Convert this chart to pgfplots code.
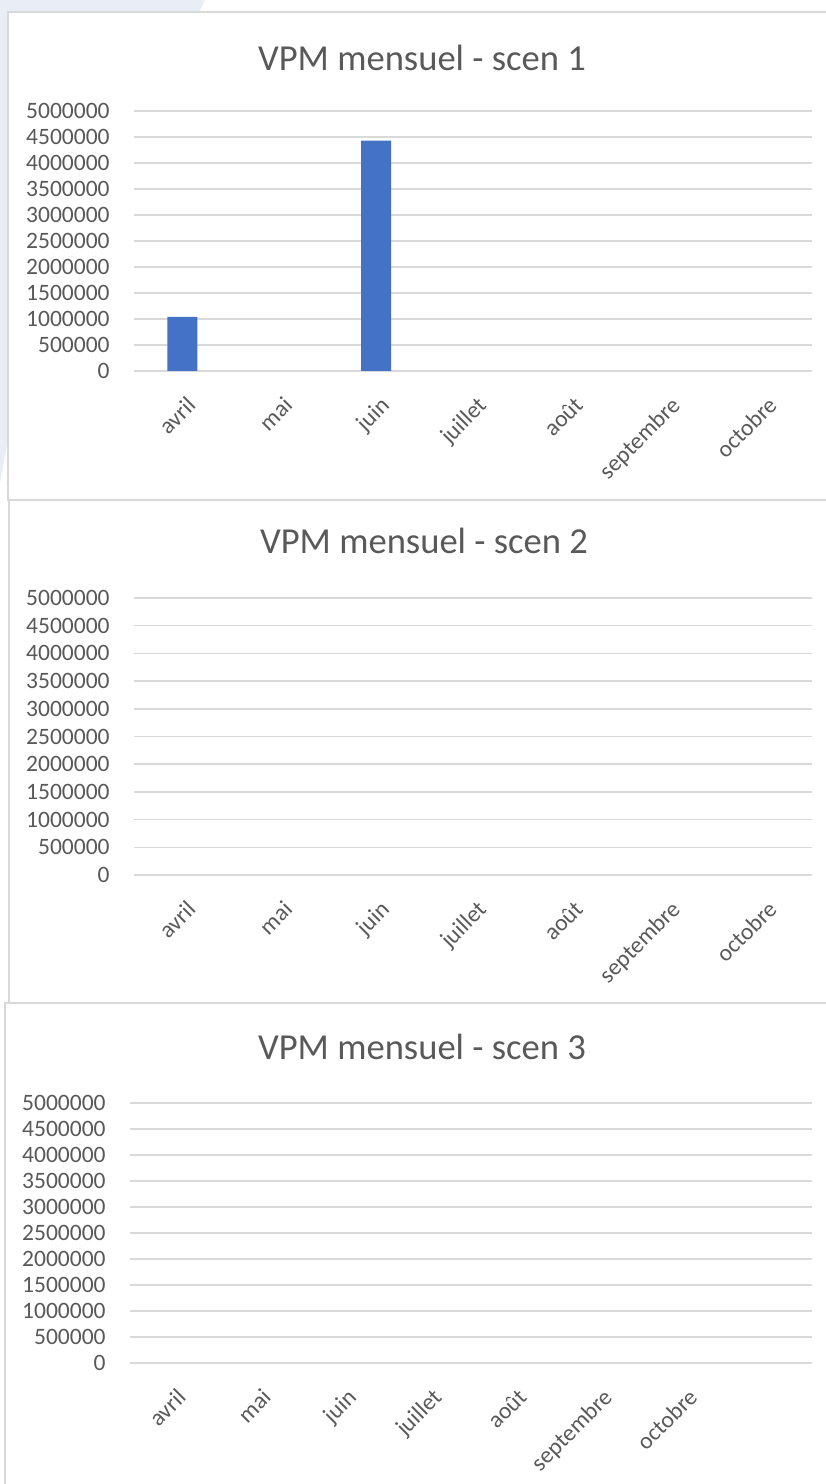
\documentclass[border=0pt]{standalone}
\usepackage{fontspec}
\setmainfont{Carlito}
\usepackage{pgfplots}
\pgfplotsset{compat=1.18}
\definecolor{bgc}{RGB}{233,237,245}
\definecolor{framec}{RGB}{217,217,217}
\definecolor{gridc}{RGB}{217,217,217}
\definecolor{txt}{RGB}{89,89,89}
\definecolor{barc}{RGB}{68,114,196}
\pgfplotsset{vpm/.style={
  scale only axis,
  ybar, bar width=15bp,
  ymin=0, ymax=5000000,
  ytick={0,500000,1000000,1500000,2000000,2500000,3000000,3500000,4000000,4500000,5000000},
  xtick={0,1,2,3,4,5,6},
  xticklabels={avril,mai,juin,juillet,août,septembre,octobre},
  axis line style={draw=none},
  major tick length=0pt,
  ymajorgrids, grid style={draw=gridc, line width=0.75bp},
  scaled y ticks=false,
  /pgf/number format/.cd, fixed, 1000 sep={}, assume math mode=true, /pgfplots/.cd,
  tick label style={font=\fontsize{11.75bp}{14bp}\selectfont, text=txt},
  yticklabel style={anchor=east, inner sep=0pt, xshift=-12bp},
  xticklabel style={xshift=1.5bp, yshift=-12bp, rotate=45, anchor=north east, inner sep=0pt},
  clip=false,
  anchor=south west,
  unbounded coords=discard,
  y filter/.expression={y==0 ? nan : y},
}}
\newcommand\ttl{\fontsize{18.3bp}{21bp}\selectfont\color{txt}}
\begin{document}
\begin{tikzpicture}
\useasboundingbox (0,0) rectangle (413bp,742bp);
\clip (0,0) rectangle (413bp,742bp);
\fill[bgc] (0,0) rectangle (413bp,742bp);
\fill[white] (102.5bp,742bp) -- (4bp,522bp) -- (0bp,500.5bp) -- (0,-10bp) -- (420bp,-10bp) -- (420bp,742bp) -- cycle;
% boxes
\draw[framec, line width=0.75bp, fill=white] (4bp,492bp) rectangle (430bp,736bp);
\draw[framec, line width=0.75bp, fill=white] (4.5bp,240.5bp) rectangle (430bp,492bp);
\draw[framec, line width=0.75bp, fill=white] (2.5bp,-20bp) rectangle (430bp,240.5bp);
% chart 1
\node[inner sep=0pt] at (211bp,713bp) {\ttl VPM mensuel - scen 1};
\begin{axis}[vpm, at={(67bp,556.5bp)}, width=339bp, height=130bp, xmin=-0.5, xmax=6.5]
\addplot[fill=barc, draw=none] coordinates {(0,1040000) (1,0) (2,4430000) (3,0) (4,0) (5,0) (6,0)};
\end{axis}
% chart 2
\node[inner sep=0pt] at (212bp,471.5bp) {\ttl VPM mensuel - scen 2};
\begin{axis}[vpm, at={(67bp,304.5bp)}, width=339bp, height=138.5bp, xmin=-0.5, xmax=6.5]
\addplot[fill=barc, draw=none] coordinates {(0,0) (1,0) (2,0) (3,0) (4,0) (5,0) (6,0)};
\end{axis}
% chart 3
\node[inner sep=0pt] at (211bp,218.5bp) {\ttl VPM mensuel - scen 3};
\begin{axis}[vpm, at={(65bp,60.5bp)}, width=341bp, height=130bp, xmin=-0.5, xmax=7.5]
\addplot[fill=barc, draw=none] coordinates {(0,0) (1,0) (2,0) (3,0) (4,0) (5,0) (6,0)};
\end{axis}
\end{tikzpicture}
\end{document}
